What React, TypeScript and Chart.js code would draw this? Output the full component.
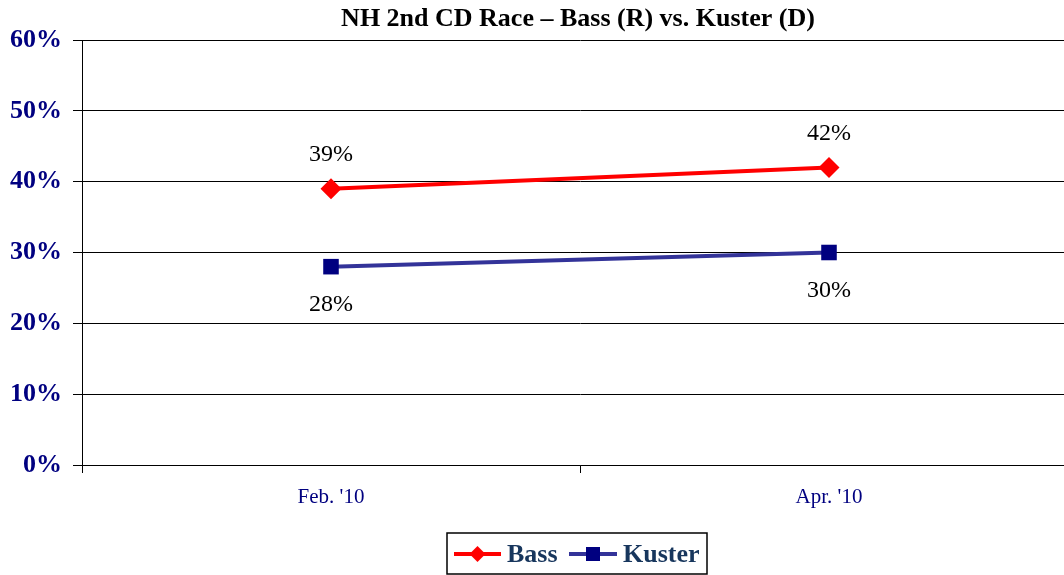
import React, { useEffect, useRef } from "react";
import { Chart, registerables } from "chart.js";

Chart.register(...registerables);

const TITLE = "NH 2nd CD Race – Bass (R) vs. Kuster (D)";
const categories = ["Feb. '10", "Apr. '10"];
const bassValues = [39, 42];
const kusterValues = [28, 30];
const yTicks = [0, 10, 20, 30, 40, 50, 60];

const SERIF = "'Liberation Serif', 'Times New Roman', serif";

const overlayPlugin = {
  id: "overlay",
  afterDraw(chart: any) {
    const ctx = chart.ctx;
    const area = chart.chartArea;
    ctx.save();
    // title
    ctx.fillStyle = "#000";
    ctx.font = `bold 26px ${SERIF}`;
    ctx.textAlign = "center";
    ctx.textBaseline = "middle";
    ctx.fillText(TITLE, 578, 19);

    // data labels
    ctx.font = `24px ${SERIF}`;
    ctx.fillStyle = "#000";
    chart.data.datasets.forEach((ds: any, i: number) => {
      const meta = chart.getDatasetMeta(i);
      meta.data.forEach((pt: any, j: number) => {
        const offset = i === 0 ? -34 : 38;
        ctx.fillText(ds.data[j] + "%", pt.x, pt.y + offset);
      });
    });

    // legend
    const bx = 447, by = 533, bw = 260, bh = 41;
    ctx.strokeStyle = "#000";
    ctx.lineWidth = 1.5;
    ctx.strokeRect(bx, by, bw, bh);
    const ly = 554;
    // Bass
    ctx.strokeStyle = "#FF0000";
    ctx.lineWidth = 4;
    ctx.beginPath();
    ctx.moveTo(454, ly);
    ctx.lineTo(501, ly);
    ctx.stroke();
    ctx.fillStyle = "#FF0000";
    ctx.beginPath();
    const dx = 477.5, dr = 8;
    ctx.moveTo(dx - dr, ly);
    ctx.lineTo(dx, ly - dr);
    ctx.lineTo(dx + dr, ly);
    ctx.lineTo(dx, ly + dr);
    ctx.closePath();
    ctx.fill();
    // Kuster
    ctx.strokeStyle = "#333399";
    ctx.beginPath();
    ctx.moveTo(569, ly);
    ctx.lineTo(617, ly);
    ctx.stroke();
    ctx.fillStyle = "#000080";
    ctx.fillRect(593 - 7, ly - 7, 14, 14);
    // texts
    ctx.fillStyle = "#17365D";
    ctx.font = `bold 26px ${SERIF}`;
    ctx.textAlign = "left";
    ctx.textBaseline = "middle";
    ctx.fillText(chart.data.datasets[0].label, 507, ly + 1);
    ctx.fillText(chart.data.datasets[1].label, 623, ly + 1);
    ctx.restore();
  },
};

export default function App() {
  const ref = useRef<HTMLCanvasElement>(null);
  useEffect(() => {
    if (!ref.current) return;
    const chart = new Chart(ref.current, {
      type: "line",
      data: {
        labels: categories,
        datasets: [
          {
            label: "Bass",
            data: bassValues,
            borderColor: "#FF0000",
            backgroundColor: "#FF0000",
            borderWidth: 4,
            pointStyle: "rectRot",
            pointRadius: 10.5,
            pointBorderWidth: 0,
            pointBackgroundColor: "#FF0000",
          },
          {
            label: "Kuster",
            data: kusterValues,
            borderColor: "#333399",
            backgroundColor: "#000080",
            borderWidth: 4,
            pointStyle: "rect",
            pointRadius: 11,
            pointBorderWidth: 0,
            pointBackgroundColor: "#000080",
          },
        ],
      },
      options: {
        responsive: false,
        animation: false,
        devicePixelRatio: 1,
        layout: { padding: { top: 40, right: 1, left: 0, bottom: 0 } },
        plugins: {
          legend: { display: false },
          title: { display: false },
          tooltip: { enabled: false },
        },
        scales: {
          x: {
            type: "category",
            offset: true,
            afterFit: (s: any) => {
              s.height = 110;
            },
            grid: {
              offset: true,
              drawOnChartArea: false,
              drawTicks: true,
              tickLength: 8,
              color: "#000",
              lineWidth: 1,
            },
            border: { display: true, color: "#000", width: 1 },
            ticks: {
              color: "#000080",
              font: { family: SERIF, size: 21 },
              padding: 12,
              maxRotation: 0,
            },
          },
          y: {
            min: 0,
            max: 60,
            afterFit: (s: any) => {
              s.width = 82;
            },
            afterBuildTicks: (s: any) => {
              s.ticks = yTicks.map((v) => ({ value: v }));
            },
            grid: {
              color: "#000",
              lineWidth: 1,
              tickLength: 9,
              drawTicks: true,
            },
            border: { display: true, color: "#000", width: 1 },
            ticks: {
              color: "#000080",
              font: { family: SERIF, size: 26, weight: "bold" },
              padding: 11,
              callback: (v: any) => v + "%",
            },
          },
        },
      },
      plugins: [overlayPlugin],
    });
    return () => chart.destroy();
  }, []);
  return (
    <div
      style={{
        position: "fixed",
        left: 0,
        top: 0,
        width: 1064,
        height: 575,
        overflow: "hidden",
        background: "#fff",
      }}
    >
      <canvas ref={ref} width={1089} height={575} style={{ display: "block" }} />
    </div>
  );
}
